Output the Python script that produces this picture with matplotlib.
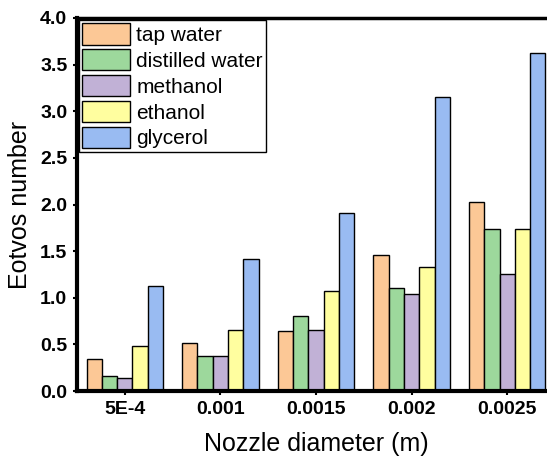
import numpy as np
import matplotlib.pyplot as plt

plt.rcParams['font.family'] = ['Liberation Sans', 'DejaVu Sans']

diameters = ["5E-4", "0.001", "0.0015", "0.002", "0.0025"]
liquids = ["tap water", "distilled water", "methanol", "ethanol", "glycerol"]
tap_water = [0.34, 0.51, 0.64, 1.46, 2.03]
distilled_water = [0.165, 0.38, 0.80, 1.10, 1.74]
methanol = [0.14, 0.37, 0.65, 1.045, 1.25]
ethanol = [0.48, 0.655, 1.075, 1.335, 1.735]
glycerol = [1.13, 1.415, 1.91, 3.155, 3.62]
colors = ["#FCC896", "#9DD89C", "#C1B1D6", "#FFFE9F", "#99BBF2"]

series = [tap_water, distilled_water, methanol, ethanol, glycerol]

fig = plt.figure(figsize=(5.47, 4.59), dpi=100)
ax = fig.add_axes([77/547, 68/459, 478/547, 373/459])

x = np.arange(len(diameters))
w = 0.16
for i, (vals, name) in enumerate(zip(series, liquids)):
    ax.bar(x + (i - 2) * w, vals, w, color=colors[i], edgecolor='black',
           linewidth=1.0, label=name, zorder=2)

ax.set_xlim(-0.5, 4.5)
ax.set_ylim(0, 4.0)
ax.set_yticks(np.arange(0, 4.01, 0.5))
ax.set_yticklabels(["%.1f" % v for v in np.arange(0, 4.01, 0.5)])
ax.set_xticks(x)
ax.set_xticklabels(diameters)
for lab in ax.get_xticklabels() + ax.get_yticklabels():
    lab.set_fontweight('bold')
    lab.set_fontsize(14)
ax.tick_params(axis='both', direction='out', length=3, width=1.5, pad=4)

for s in ['left', 'bottom']:
    ax.spines[s].set_linewidth(3)
ax.spines['top'].set_linewidth(2.5)
ax.spines['right'].set_visible(False)

ax.set_xlabel("Nozzle diameter (m)", fontsize=18, labelpad=10)
ax.set_ylabel("Eotvos number", fontsize=18, labelpad=6)

leg = ax.legend(loc='upper left', fontsize=15, frameon=True, fancybox=False,
                edgecolor='black', handlelength=2.3, handleheight=1.2,
                labelspacing=0.2, handletextpad=0.3, borderpad=0.15,
                borderaxespad=0.1, framealpha=1)
leg.get_frame().set_linewidth(1.0)

fig.savefig("out.png", dpi=100)
